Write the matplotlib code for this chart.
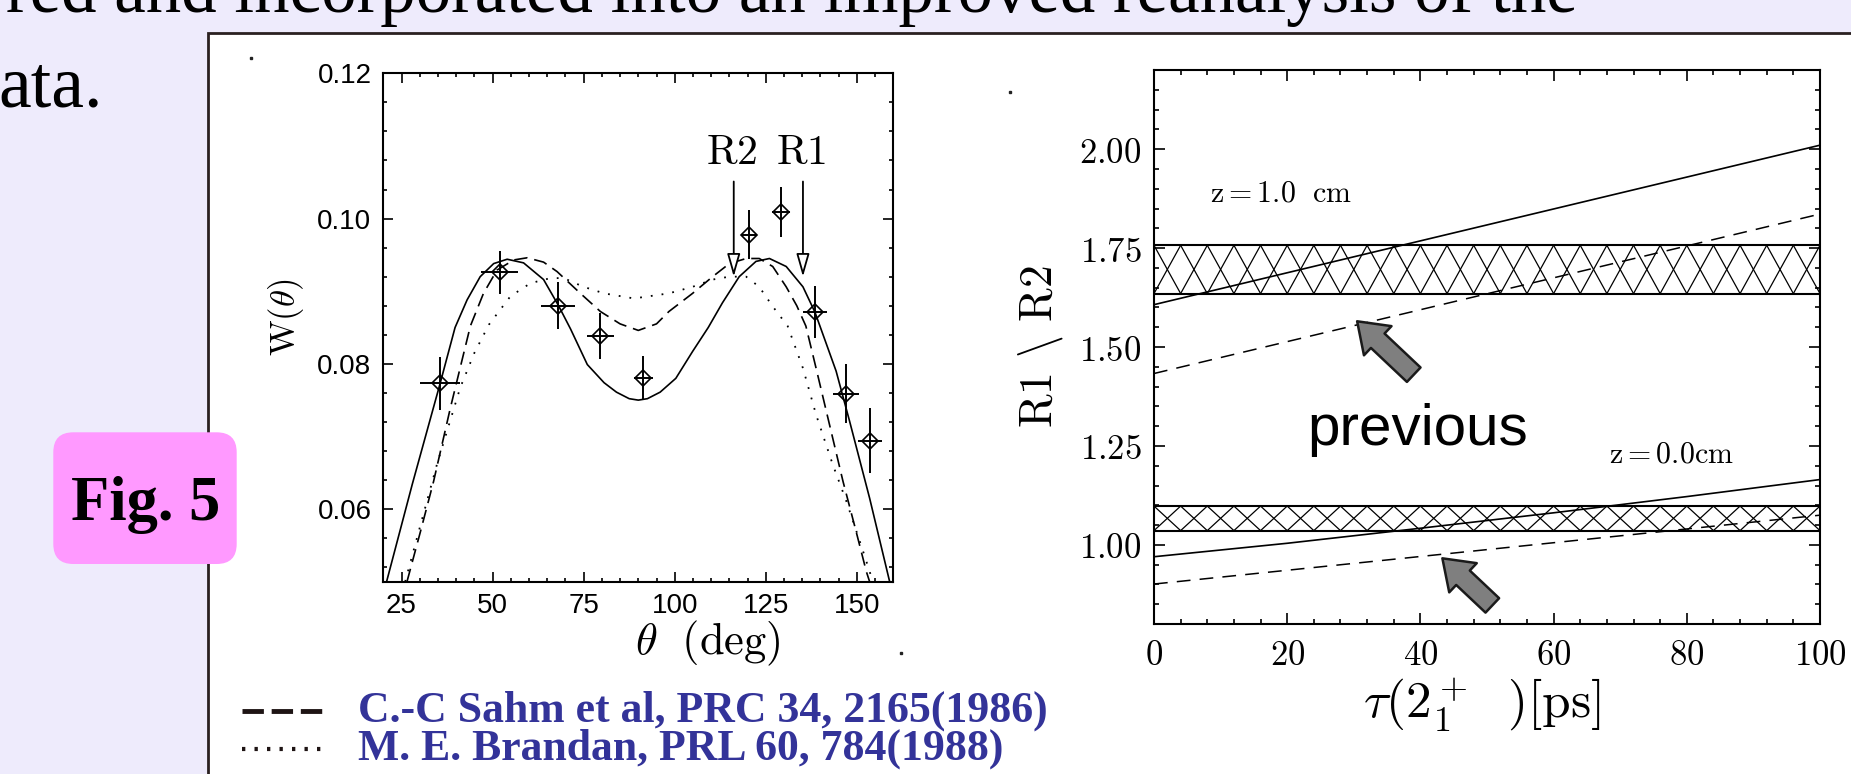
import numpy as np
import matplotlib
matplotlib.use("Agg")
import matplotlib.pyplot as plt
from matplotlib.patches import Rectangle, FancyBboxPatch
from matplotlib.lines import Line2D
from matplotlib.ticker import MultipleLocator, FuncFormatter
from matplotlib.collections import LineCollection

plt.rcParams['mathtext.fontset'] = 'cm'

# ── left panel: measured W(theta) ───────────────────────────────────────
theta_pts = [35.6, 51.9, 68.0, 79.6, 91.4, 120.4, 129.2, 138.5, 147.0, 153.6]
w_pts     = [0.0773, 0.0926, 0.0880, 0.0838, 0.0781, 0.0978, 0.1009, 0.0871, 0.0759, 0.0694]
w_err     = [0.0037, 0.0030, 0.0032, 0.0032, 0.0030, 0.0034, 0.0034, 0.0036, 0.0041, 0.0045]
theta_err = [5.5, 5.2, 4.6, 3.7, 2.5, 2.0, 2.5, 3.3, 3.5, 3.3]

# present calculation (solid)
th_solid = [20.9, 28.0, 35.6, 39.7, 43.0, 46.6, 50.3, 54.0, 58.5, 64.0, 68.0, 71.4,
            76.0, 80.6, 84.0, 87.5, 90.0, 92.5, 96.0, 100.3, 104.9, 109.2, 113.1,
            117.7, 122.3, 126.0, 130.6, 135.2, 138.5, 144.3, 148.0, 153.5, 159.0]
w_solid  = [0.0500, 0.0635, 0.0773, 0.0850, 0.0888, 0.0920, 0.0938, 0.0944, 0.0939,
            0.0916, 0.0881, 0.0848, 0.0799, 0.0774, 0.0761, 0.0752, 0.0750, 0.0752,
            0.0761, 0.0780, 0.0817, 0.0850, 0.0884, 0.0920, 0.0941, 0.0945, 0.0934,
            0.0906, 0.0871, 0.0790, 0.0721, 0.0615, 0.0500]

# C.-C Sahm et al (dashed)
th_dash = [26.5, 30.2, 33.8, 38.4, 43.9, 47.5, 51.2, 55.8, 59.5, 64.0, 67.7, 74.1,
           79.6, 85.0, 90.0, 95.0, 98.4, 104.9, 110.4, 115.0, 119.6, 123.2, 126.9,
           130.6, 133.5, 136.0, 138.8, 142.5, 146.2, 149.8, 152.6, 153.5]
w_dash  = [0.0500, 0.0569, 0.0638, 0.0739, 0.0852, 0.0897, 0.0929, 0.0943, 0.0946,
           0.0940, 0.0927, 0.0897, 0.0872, 0.0855, 0.0846, 0.0855, 0.0872, 0.0897,
           0.0920, 0.0938, 0.0945, 0.0945, 0.0934, 0.0906, 0.0880, 0.0852, 0.0794,
           0.0716, 0.0638, 0.0569, 0.0514, 0.0500]

# M. E. Brandan (dotted)
th_dot = [26.0, 29.5, 34.7, 41.1, 45.0, 49.0, 54.9, 60.4, 65.9, 69.5, 75.0, 80.6,
          88.8, 98.4, 104.9, 110.4, 115.0, 119.6, 123.2, 126.9, 131.0, 135.2, 138.8,
          143.4, 147.1, 151.7, 154.4]
w_dot  = [0.0500, 0.0565, 0.0661, 0.0767, 0.0815, 0.0854, 0.0893, 0.0911, 0.0918,
          0.0918, 0.0906, 0.0897, 0.0890, 0.0897, 0.0906, 0.0916, 0.0920, 0.0920,
          0.0906, 0.0879, 0.0852, 0.0794, 0.0730, 0.0661, 0.0611, 0.0542, 0.0500]

gate_labels = ['R2', 'R1']
gate_angles = [116.2, 135.2]

# ── right panel: R1/R2 vs lifetime ──────────────────────────────────────
tau_ends = [0, 100]
r_z10_solid = [1.607, 2.010]
r_z10_dash  = [1.433, 1.836]
tau_grid = [0, 20, 40, 60, 80, 100]
r_z00_solid = [0.970, 1.004, 1.042, 1.081, 1.122, 1.165]
r_z00_dash  = [0.901, 1.075]
exp_bands = [(1.635, 1.757), (1.036, 1.098)]

legend_refs = ['C.-C Sahm et al, PRC 34, 2165(1986)',
               'M. E. Brandan, PRL 60, 784(1988)']

W, H = 1851, 774
fig = plt.figure(figsize=(W / 100, H / 100), dpi=100)
fig.patch.set_facecolor('#EEEBFC')

# slide: white panel, header text, Fig. 5 tag
fig.patches.append(Rectangle((208 / W, -0.01), 1.0, (H - 33) / H + 0.01,
                             transform=fig.transFigure, fc='white',
                             ec='#2a2020', lw=2, zorder=-2))
fig.text(1578 / W, 1 - 12 / H, 'red and incorporated into an improved reanalysis of the',
         ha='right', va='baseline', fontsize=51, family='Liberation Serif')
fig.text(103 / W, 1 - 106.7 / H, 'ata.', ha='right', va='baseline', fontsize=53,
         family='Liberation Serif')
fig.patches.append(FancyBboxPatch((0.533 + 0.2, 2.10 + 0.2), 1.834 - 0.4, 1.317 - 0.4,
                                  boxstyle='round,pad=0.2', transform=fig.dpi_scale_trans,
                                  fc='#FF99FF', ec='none', zorder=3))
fig.text(146 / W, 1 - 520 / H, 'Fig. 5', ha='center', va='baseline', fontsize=45,
         fontweight='bold', family='Liberation Serif', zorder=4)
# stray scan specks on the slide
for sx, sy in [(251, 58), (1010, 92), (901, 653)]:
    fig.add_artist(Line2D([sx / W], [1 - sy / H], marker='s', ms=1.6,
                          color='#222222', lw=0))

# ── left axes ───────────────────────────────────────────────────────────
ax1 = fig.add_axes([383.3 / W, 1 - 581.7 / H, 510 / W, 508.4 / H])
ax1.plot(th_solid, w_solid, color='k', lw=1.2)
ax1.plot(th_dash, w_dash, color='k', lw=1.2, ls=(0, (8, 4.2)))
ax1.plot(th_dot, w_dot, color='k', lw=1.3, ls=(0, (1, 5)))
ax1.errorbar(theta_pts, w_pts, xerr=theta_err, yerr=w_err, fmt='D', ms=8,
             mfc='none', mec='k', mew=1.2, ecolor='k', elinewidth=1.4, capsize=0)
for lab, ang in zip(gate_labels, gate_angles):
    ax1.annotate('', xy=(ang, 0.0920), xytext=(ang, 0.1051),
                 arrowprops=dict(arrowstyle='-|>,head_length=0.7,head_width=0.2',
                                 fc='white', ec='k', lw=1.3, mutation_scale=20,
                                 shrinkA=0, shrinkB=0))
    ax1.text(ang - 0.6, 0.1075, r'$\mathrm{%s}$' % lab, ha='center', va='baseline',
             fontsize=30)
ax1.set_xlim(20, 160)
ax1.set_ylim(0.05, 0.12)
ax1.xaxis.set_major_locator(MultipleLocator(25))
ax1.xaxis.set_minor_locator(MultipleLocator(5))
ax1.yaxis.set_major_locator(MultipleLocator(0.02))
ax1.yaxis.set_minor_locator(MultipleLocator(0.004))
ax1.xaxis.set_major_formatter(FuncFormatter(lambda v, p: '%d' % v))
ax1.yaxis.set_major_formatter(FuncFormatter(lambda v, p: '%.2f' % v))
ax1.tick_params(which='both', direction='in', top=True, right=True, width=1.2,
                labelsize=20, labelfontfamily='Liberation Sans')
ax1.tick_params(which='major', length=7)
ax1.tick_params(which='minor', length=3)
ax1.tick_params(axis='x', pad=8)
ax1.tick_params(axis='y', pad=8.5)
for s in ax1.spines.values():
    s.set_linewidth(1.5)
ax1.text(-0.19, 0.52, r'$\mathrm{W}(\theta)$', transform=ax1.transAxes, rotation=90,
         ha='center', va='center', fontsize=25)
ax1.text(0.637, -0.122, r'$\theta\ \ (\mathrm{deg})$', transform=ax1.transAxes,
         ha='center', va='center', fontsize=32)

# ── right axes ──────────────────────────────────────────────────────────
ax2 = fig.add_axes([1154 / W, 1 - 624 / H, 666 / W, 554 / H])
hatch_step = 4
segs = []
for lo, hi in exp_bands:
    ax2.axhline(lo, color='k', lw=1.5)
    ax2.axhline(hi, color='k', lw=1.5)
    for x0 in np.arange(-hatch_step, 100 + 2 * hatch_step, hatch_step):
        segs.append([(x0, hi), (x0 + hatch_step, lo)])
        segs.append([(x0, hi), (x0 - hatch_step, lo)])
ax2.add_collection(LineCollection(segs, colors='k', linewidths=0.9))
ax2.plot(tau_ends, r_z10_solid, color='k', lw=1.2)
ax2.plot(tau_ends, r_z10_dash, color='k', lw=1.1, ls=(0, (9, 6)))
ax2.plot(tau_grid, r_z00_solid, color='k', lw=1.2)
ax2.plot(tau_ends, r_z00_dash, color='k', lw=1.1, ls=(0, (9, 6)))

arrow_kw = dict(arrowstyle='simple,head_length=0.6,head_width=0.85,tail_width=0.42',
                mutation_scale=34, fc='#7f7f7f', ec='#1a1a1a', lw=1.8,
                shrinkA=0, shrinkB=0)
ax2.annotate('', xy=(30.5, 1.565), xytext=(39.0, 1.430), arrowprops=arrow_kw)
ax2.annotate('', xy=(43.3, 0.966), xytext=(50.8, 0.847), arrowprops=arrow_kw)

ax2.text(8.4, 1.867, r'$\mathrm{z=1.0}\ \ \mathrm{cm}$', fontsize=21.5, va='baseline')
ax2.text(68.3, 1.209, r'$\mathrm{z=0.0cm}$', fontsize=21.5, va='baseline')
ax2.text(23.0, 1.253, 'previous', fontsize=42, family='Liberation Sans', va='baseline')

ax2.set_xlim(0, 100)
ax2.set_ylim(0.8, 2.2)
ax2.xaxis.set_major_locator(MultipleLocator(20))
ax2.xaxis.set_minor_locator(MultipleLocator(4))
ax2.yaxis.set_major_locator(MultipleLocator(0.25))
ax2.yaxis.set_minor_locator(MultipleLocator(0.05))
ax2.xaxis.set_major_formatter(FuncFormatter(lambda v, p: r'$\mathrm{%d}$' % v))
ax2.yaxis.set_major_formatter(FuncFormatter(lambda v, p: r'$\mathrm{%.2f}$' % v))
ax2.tick_params(which='both', direction='in', top=True, right=True, width=1.2,
                labelsize=25)
ax2.tick_params(which='major', length=8)
ax2.tick_params(which='minor', length=3.5)
ax2.tick_params(axis='x', pad=10)
ax2.tick_params(axis='y', pad=9)
for s in ax2.spines.values():
    s.set_linewidth(1.5)
ax2.text(-0.17, 0.5, r'$\mathrm{R1}\ \backslash\ \mathrm{R2}$', transform=ax2.transAxes,
         rotation=90, ha='center', va='center', fontsize=33)
ax2.text(0.492, -0.145, r'$\tau(2_1^+\ \ )[\mathrm{ps}]$', transform=ax2.transAxes,
         ha='center', va='center', fontsize=37)

# ── reference key under the left panel ──────────────────────────────────
fig.add_artist(Line2D([242 / W, 325 / W], [1 - 711 / H] * 2, color='#1e1414',
                      lw=3.5, ls=(0, (4.4, 1.6))))
fig.add_artist(Line2D([242 / W, 325 / W], [1 - 749 / H] * 2, color='#1e1414',
                      lw=3.0, ls=(0, (0.8, 2.2))))
for yy, ref in zip([711, 749], legend_refs):
    fig.text(358 / W, 1 - yy / H, ref, ha='left', va='center', fontsize=31.5,
             fontweight='bold', family='Liberation Serif', color='#333399')

fig.savefig('out.png', dpi=100)
